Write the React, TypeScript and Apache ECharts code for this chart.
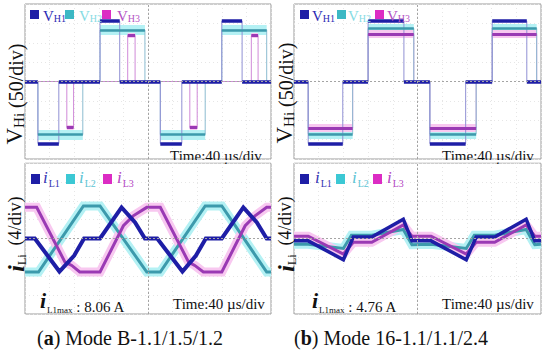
import React, { useEffect, useRef } from "react";
import * as echarts from "echarts";

// ---------- DATA ----------
// Time axis: 10 divisions of 40 µs
const timeRange = [0, 400];
const timeStep = 40;
// Voltage panels: 50 V/div, 8 divs ; Current panels: 4 A/div, 8 divs
const voltRange = [-200, 200];
const voltStep = 50;
const currRange = [-16, 16];
const currStep = 4;

// (a) Mode B — V_Hi step waveforms: [switching time µs, level V] (held until next point)
const vH1a = [[0, 0], [21, -160], [55, 0], [122, 156], [154, 0], [220, -160], [255, 0], [320, 156], [353, 0], [400, 0]];
const vH2a = [[0, 0], [21, -137], [94, 0], [122, 133], [195, 0], [220, -137], [293, 0], [320, 133], [393, 0], [400, 0]];
const vH3a = [[0, 0], [68, -119], [79, 0], [167, 119], [179, 0], [268, -119], [280, 0], [368, 119], [379, 0], [400, 0]];

// (b) Mode 16 — V_Hi step waveforms
const vH1b = [[0, 0], [23, -160], [79, 0], [120, 156], [178, 0], [220, -160], [278, 0], [321, 156], [377, 0], [400, 0]];
const vH2b = [[0, 0], [23, -135], [95, 0], [120, 137], [194, 0], [220, -135], [295, 0], [321, 137], [393, 0], [400, 0]];
const vH3b = [[0, 0], [23, -120], [95, 0], [120, 122], [194, 0], [220, -120], [295, 0], [321, 122], [393, 0], [400, 0]];

// (a) inductor currents [time µs, A]
const iL1a = [[0, 0], [16, 0], [56, -7.0], [80, -3.6], [96, 0], [122, 0], [157, 6.6], [179, 3.4], [195, 0], [215, 0], [256, -7.0], [278, -3.6], [294, 0], [320, 0], [355, 6.6], [377, 3.4], [393, 0], [400, 0]];
const iL2a = [[0, -7.1], [22, -7.1], [95, 6.9], [122, 6.9], [198, -7.1], [220, -7.1], [293, 6.9], [320, 6.9], [393, -7.1], [400, -7.1]];
const iL3a = [[0, 6.6], [19, 6.6], [65, -5.0], [76, -5.7], [89, -7.1], [122, -7.1], [160, 2.7], [176, 4.8], [198, 6.6], [220, 6.6], [266, -5.0], [276, -5.7], [290, -7.1], [320, -7.1], [358, 2.7], [374, 4.8], [393, 6.6], [400, 6.6]];

// (b) inductor currents
const iL1b = [[0, -0.5], [23, -0.5], [80, -4.5], [96, 0.3], [126, 0.3], [177, 4.1], [191, -0.5], [222, -0.5], [279, -4.5], [295, 0.3], [325, 0.3], [376, 4.1], [390, -0.5], [400, -0.5]];
const iL2b = [[0, -1.2], [23, -1.2], [80, -2.1], [93, 0.7], [126, 0.7], [177, 1.9], [191, -1.3], [222, -1.2], [279, -2.1], [292, 0.7], [325, 0.7], [376, 1.9], [390, -1.3], [400, -1.2]];
const iL3b = [[0, 0.5], [23, 0.5], [80, -3.3], [96, -0.8], [126, -0.8], [177, 2.9], [191, 0.5], [222, 0.5], [279, -3.3], [295, -0.8], [325, -0.8], [376, 2.9], [390, 0.5], [400, 0.5]];

const iL1maxA = "8.06 A";
const iL1maxB = "4.76 A";
const timeLabel = "Time:40 µs/div";
const captionA = ["a", " Mode B-1.1/1.5/1.2"];
const captionB = ["b", " Mode 16-1.1/1.1/2.4"];

// ---------- STYLE ----------
const FONT = "Liberation Serif";
const BLUE = "#1e1ea6";
const TEAL = "#3c9aac";
const CYAN_HALO = "#b4f1f4";
const MAG = "#9a3ab4";
const PINK_HALO = "#f8c8f0";

const grids = [
  { left: 25, top: 4, width: 246, height: 155 },
  { left: 25, top: 163, width: 246, height: 151 },
  { left: 294, top: 4, width: 247, height: 155 },
  { left: 294, top: 163, width: 247, height: 151 },
];

function hSegments(steps: number[][], skipZero: boolean) {
  const out: any[] = [];
  for (let i = 0; i < steps.length - 1; i++) {
    if (skipZero && steps[i][1] === 0) continue;
    out.push({ coords: [[steps[i][0], steps[i][1]], [steps[i + 1][0], steps[i][1]]] });
  }
  return out;
}

function linesSeries(g: number, data: any[], color: string, width: number, z: number, markLine?: any) {
  const s: any = {
    type: "lines",
    coordinateSystem: "cartesian2d",
    xAxisIndex: g,
    yAxisIndex: g,
    polyline: false,
    silent: true,
    z,
    lineStyle: { color, width, opacity: 1, cap: "butt" },
    data,
  };
  if (markLine) s.markLine = markLine;
  return s;
}

function centerMark() {
  return {
    silent: true,
    symbol: "none",
    label: { show: false },
    lineStyle: { type: [2, 2], color: "#a4a4a4", width: 1 },
    data: [{ xAxis: 200 }, { yAxis: 0 }],
  };
}

function stepSeries(g: number, data: number[][], color: string, z: number) {
  return {
    type: "line",
    step: "end",
    xAxisIndex: g,
    yAxisIndex: g,
    data,
    symbol: "none",
    silent: true,
    z,
    lineStyle: { color, width: 1 },
  };
}

function voltSeries(g: number, h1: number[][], h2: number[][], h3: number[][], pinkW: number) {
  return [
    linesSeries(g, hSegments(h2, true), CYAN_HALO, 10, 1, centerMark()),
    linesSeries(g, hSegments(h3, true), PINK_HALO, pinkW, 1),
    stepSeries(g, h3, "#d08ad8", 2),
    stepSeries(g, h2, "#8cbcd0", 2),
    stepSeries(g, h1, "#9090d4", 2),
    linesSeries(g, hSegments(h2, true), TEAL, 2.5, 3),
    linesSeries(g, hSegments(h3, true), MAG, 3, 3),
    linesSeries(g, hSegments(h1, false), BLUE, 3.5, 4),
  ];
}

function curveSeries(g: number, d: number[][], color: string, width: number, z: number, extra?: any) {
  const s: any = {
    type: "line",
    xAxisIndex: g,
    yAxisIndex: g,
    data: d,
    symbol: "none",
    silent: true,
    z,
    lineStyle: { color, width, join: "miter" },
  };
  if (extra) s.markLine = extra;
  return s;
}

function currSeries(g: number, i1: number[][], i2: number[][], i3: number[][], w1: number) {
  return [
    curveSeries(g, i2, CYAN_HALO, 9, 1, centerMark()),
    curveSeries(g, i3, PINK_HALO, 9, 1),
    curveSeries(g, i2, TEAL, 3, 3),
    curveSeries(g, i3, MAG, 3, 3),
    curveSeries(g, i1, BLUE, w1, 4),
  ];
}

function legendV(x0: number[], sq: number[]) {
  const cols = [BLUE, "#3cb8c4", "#dc2cc4"];
  const txt = ["#2a2ab4", "#86dbe3", "#b452c4"];
  const els: any[] = [];
  for (let k = 0; k < 3; k++) {
    els.push({ type: "rect", shape: { x: sq[k], y: 10, width: 9, height: 9 }, style: { fill: cols[k] }, z: 100 });
    els.push({
      type: "text", x: x0[k], y: 15, z: 100,
      style: {
        text: `{v|V}{s|H${k + 1}}`,
        verticalAlign: "middle",
        rich: {
          v: { fontFamily: FONT, fontSize: 15, fill: txt[k], lineHeight: 16, verticalAlign: "bottom" },
          s: { fontFamily: FONT, fontSize: 10, fill: txt[k], lineHeight: 12, verticalAlign: "bottom" },
        },
      },
    });
  }
  return els;
}

function legendI(x0: number[], sq: number[]) {
  const cols = [BLUE, "#3cc8d4", "#dc2cc4"];
  const txt = ["#3434b4", "#5cc4d4", "#b444c4"];
  const els: any[] = [];
  for (let k = 0; k < 3; k++) {
    els.push({ type: "rect", shape: { x: sq[k], y: 174, width: 9, height: 10 }, style: { fill: cols[k] }, z: 100 });
    els.push({
      type: "text", x: x0[k], y: 179, z: 100,
      style: {
        text: `{i|i}{s|L${k + 1}}`,
        verticalAlign: "middle",
        rich: {
          i: { fontFamily: FONT, fontSize: 17, fontStyle: "italic", fill: txt[k], lineHeight: 18, verticalAlign: "bottom", padding: [0, 1, 2, 0] },
          s: { fontFamily: FONT, fontSize: 10, fill: txt[k], lineHeight: 12, verticalAlign: "bottom" },
        },
      },
    });
  }
  return els;
}

function yLabelV(x: number, y: number) {
  return {
    type: "text", x, y, rotation: Math.PI / 2, z: 100,
    style: {
      text: "{v|V}{s|Hi}{n| (50/div)}",
      align: "center", verticalAlign: "middle",
      rich: {
        v: { fontFamily: FONT, fontSize: 23, fill: "#111", lineHeight: 24, verticalAlign: "bottom" },
        s: { fontFamily: FONT, fontSize: 15, fill: "#111", lineHeight: 18, verticalAlign: "bottom" },
        n: { fontFamily: FONT, fontSize: 20, fill: "#111", lineHeight: 24, verticalAlign: "bottom" },
      },
    },
  };
}

function yLabelI(x: number) {
  return [
    {
      type: "text", x, y: 221, rotation: Math.PI / 2, z: 100,
      style: { text: "(4/div)", fontFamily: FONT, fontSize: 18, fill: "#111", align: "center", verticalAlign: "middle" },
    },
    {
      type: "text", x: x + 1, y: 263, rotation: Math.PI / 2, z: 100,
      style: {
        text: "{i|i}{s|Li}",
        align: "center", verticalAlign: "middle",
        rich: {
          i: { fontFamily: FONT, fontSize: 24, fontStyle: "italic", fontWeight: "bold", fill: "#111", lineHeight: 24, verticalAlign: "bottom" },
          s: { fontFamily: FONT, fontSize: 12, fill: "#111", lineHeight: 12, verticalAlign: "bottom" },
        },
      },
    },
  ];
}

function timeText(x: number, y: number) {
  return {
    type: "text", x, y, z: 100,
    style: { text: timeLabel, fontFamily: FONT, fontSize: 15, fill: "#111", verticalAlign: "middle" },
  };
}

function iMaxText(x: number, y: number, val: string) {
  return {
    type: "text", x, y, z: 100,
    style: {
      text: `{i|i}{s|L1max}{t| : ${val}}`,
      verticalAlign: "middle",
      rich: {
        i: { fontFamily: FONT, fontSize: 22, fontStyle: "italic", fontWeight: "bold", fill: "#111", lineHeight: 22, verticalAlign: "bottom", padding: [0, 1, 3, 0] },
        s: { fontFamily: FONT, fontSize: 9, fill: "#111", lineHeight: 10, verticalAlign: "bottom" },
        t: { fontFamily: FONT, fontSize: 15, fill: "#111", lineHeight: 19, verticalAlign: "bottom" },
      },
    },
  };
}

function caption(cx: number, cy: number, c: string[]) {
  return {
    type: "text", x: cx, y: cy, z: 100,
    style: {
      text: `{n|(}{b|${c[0]}}{n|)${c[1]}}`,
      align: "center", verticalAlign: "middle",
      rich: {
        n: { fontFamily: FONT, fontSize: 20, fill: "#111" },
        b: { fontFamily: FONT, fontSize: 20, fontWeight: "bold", fill: "#111" },
      },
    },
  };
}

function buildOption() {
  const xAxis = grids.map((_, i) => ({
    type: "value", gridIndex: i, min: timeRange[0], max: timeRange[1], interval: timeStep,
    axisLabel: { show: false }, axisTick: { show: false }, axisLine: { show: false },
    splitLine: { show: true, lineStyle: { color: "#e6e6e6", type: [1, 3], width: 1 } },
  }));
  const yAxis = grids.map((_, i) => {
    const v = i % 2 === 0;
    return {
      type: "value", gridIndex: i,
      min: v ? voltRange[0] : currRange[0], max: v ? voltRange[1] : currRange[1],
      interval: v ? voltStep : currStep,
      axisLabel: { show: false }, axisTick: { show: false }, axisLine: { show: false },
      splitLine: { show: true, lineStyle: { color: "#e6e6e6", type: [1, 3], width: 1 } },
    };
  });
  const series = [
    ...voltSeries(0, vH1a, vH2a, vH3a, 5),
    ...currSeries(1, iL1a, iL2a, iL3a, 4),
    ...voltSeries(2, vH1b, vH2b, vH3b, 8),
    ...currSeries(3, iL1b, iL2b, iL3b, 3.5),
  ];
  const graphic = [
    ...legendV([43, 79, 117], [30, 65, 102]),
    ...legendV([312, 348, 387], [300, 337, 375]),
    ...legendI([43, 79, 117], [31, 66, 103]),
    ...legendI([315, 352, 387], [300, 336, 373]),
    yLabelV(14, 94),
    yLabelV(284, 93),
    ...yLabelI(15),
    ...yLabelI(285),
    timeText(170, 156),
    timeText(442, 156),
    { type: "rect", shape: { x: 0, y: 160, width: 550, height: 2.5 }, style: { fill: "#fff" }, z: 101 },
    timeText(173, 304),
    timeText(442, 304),
    iMaxText(40, 303, iL1maxA),
    iMaxText(312, 303, iL1maxB),
    caption(130, 338, captionA),
    caption(391, 338, captionB),
  ];
  return {
    animation: false,
    backgroundColor: "#fff",
    grid: grids.map((g) => ({ ...g, show: true, borderColor: "#9c9c9c", borderWidth: 1, backgroundColor: "transparent" })),
    xAxis,
    yAxis,
    series,
    graphic,
  };
}

export default function App() {
  const ref = useRef<HTMLDivElement>(null);
  useEffect(() => {
    document.body.style.margin = "0";
    const chart = echarts.init(ref.current!, null, { renderer: "svg" });
    chart.setOption(buildOption() as any);
    return () => chart.dispose();
  }, []);
  return <div ref={ref} style={{ width: 550, height: 357, background: "#fff" }} />;
}
